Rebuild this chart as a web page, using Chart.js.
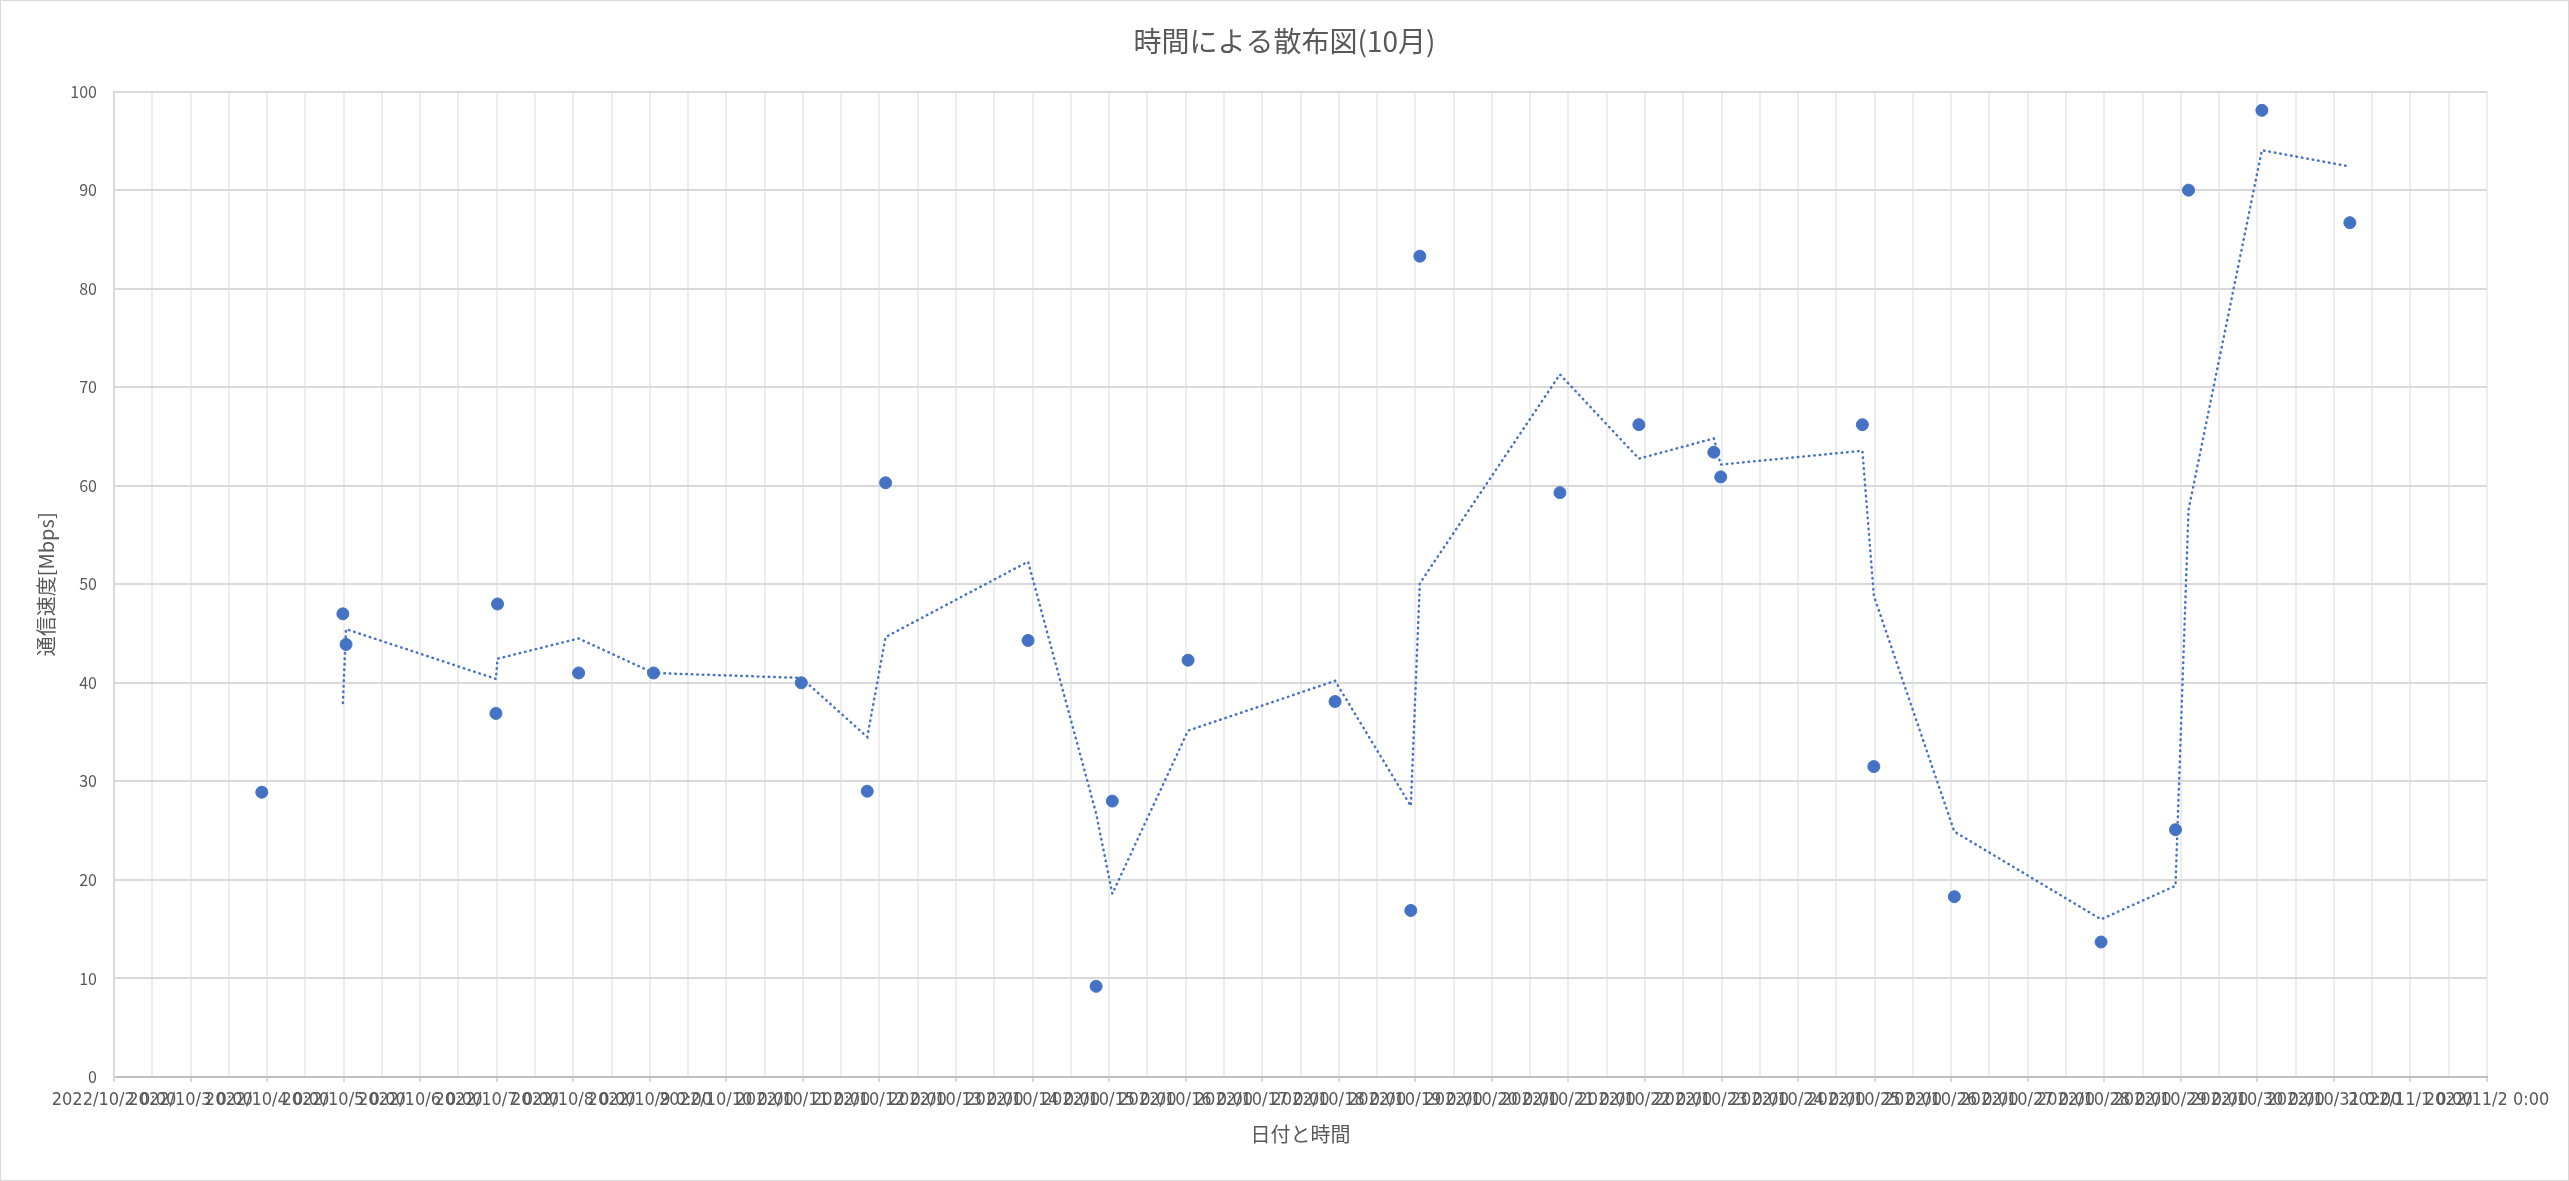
<!DOCTYPE html>
<html>
<head>
<meta charset="utf-8">
<title>時間による散布図(10月)</title>
<script src="https://cdn.jsdelivr.net/npm/chart.js@4.4.0/dist/chart.umd.min.js"></script>
<style>
  body { margin: 0; background: #fff; }
  canvas { display: block; }
</style>
</head>
<body>
<canvas id="speedChart" width="2569" height="1181"></canvas>
<script>
/************ DATA ************/
const times = [
  "2022/10/03 22:20", "2022/10/04 23:45", "2022/10/05 00:45", "2022/10/06 23:45",
  "2022/10/07 00:15", "2022/10/08 01:40", "2022/10/09 01:10", "2022/10/10 23:30",
  "2022/10/11 20:10", "2022/10/12 01:55", "2022/10/13 22:35", "2022/10/14 19:55",
  "2022/10/15 01:00", "2022/10/16 00:45", "2022/10/17 22:50", "2022/10/18 22:35",
  "2022/10/19 01:25", "2022/10/20 21:20", "2022/10/21 22:05", "2022/10/22 21:35",
  "2022/10/22 23:45", "2022/10/24 20:10", "2022/10/24 23:45", "2022/10/26 01:00",
  "2022/10/27 23:00", "2022/10/28 22:20", "2022/10/29 02:25", "2022/10/30 01:25",
  "2022/10/31 05:00",
];
const speeds = [
  28.9, 47.0, 43.9, 36.9,
  48.0, 41.0, 41.0, 40.0,
  29.0, 60.3, 44.3, 9.2,
  28.0, 42.3, 38.1, 16.9,
  83.3, 59.3, 66.2, 63.4,
  60.9, 66.2, 31.5, 18.3,
  13.7, 25.1, 90.0, 98.1,
  86.7,
];
const xRange = ["2022/10/02 00:00", "2022/11/02 00:00"];
const yTicks = [0, 10, 20, 30, 40, 50, 60, 70, 80, 90, 100];

const DAY = 86400000;
const BLUE = "#4472C4";
const FONT = "'Noto Sans CJK JP', 'Noto Sans', sans-serif";
const NARROW = "'Liberation Sans Narrow', 'DejaVu Sans Condensed', sans-serif";

function parseTime(s) {
  const [d, t] = s.split(" ");
  const [Y, M, D] = d.split("/").map(Number);
  const [h, m] = t.split(":").map(Number);
  return Date.UTC(Y, M - 1, D, h, m);
}

function formatTick(v) {
  const d = new Date(v);
  const mm = String(d.getUTCMinutes()).padStart(2, "0");
  return d.getUTCFullYear() + "/" + (d.getUTCMonth() + 1) + "/" + d.getUTCDate() + " " + d.getUTCHours() + ":" + mm;
}

const points = times.map((t, i) => ({ x: parseTime(t), y: speeds[i] }));

// 2-period moving average (Excel style trendline)
const trend = points.slice(1).map((p, i) => ({ x: p.x, y: (points[i].y + p.y) / 2 }));

const xMin = parseTime(xRange[0]);
const xMax = parseTime(xRange[1]);

/************ BORDER ************/
const chartBorder = {
  id: "chartBorder",
  afterDraw(chart) {
    const ctx = chart.ctx;
    ctx.save();
    ctx.strokeStyle = "#d9d9d9";
    ctx.lineWidth = 1;
    ctx.strokeRect(0.5, 0.5, chart.width - 1, chart.height - 1);
    ctx.restore();
  },
};

/************ CHART ************/
new Chart(document.getElementById("speedChart"), {
  type: "scatter",
  data: {
    datasets: [
      {
        label: "通信速度",
        data: points,
        backgroundColor: BLUE,
        borderColor: BLUE,
        pointRadius: 6,
        pointHoverRadius: 6,
        order: 1,
      },
      {
        label: "2 区間移動平均",
        data: trend,
        showLine: true,
        borderColor: BLUE,
        borderWidth: 2.5,
        borderDash: [0.5, 5],
        borderCapStyle: "round",
        pointRadius: 0,
        order: 0,
      },
    ],
  },
  plugins: [chartBorder],
  options: {
    responsive: false,
    animation: false,
    layout: { padding: 0 },
    plugins: {
      legend: { display: false },
      tooltip: { enabled: false },
      title: {
        display: true,
        text: "時間による散布図(10月)",
        color: "#595959",
        font: { family: FONT, size: 28, weight: "normal" },
        padding: { top: 25, bottom: 33 },
      },
    },
    scales: {
      x: {
        type: "linear",
        position: "bottom",
        min: xMin,
        max: xMax,
        afterFit: (s) => { s.height = 104; s.paddingRight = 82; },
        ticks: {
          stepSize: DAY,
          autoSkip: false,
          maxRotation: 0,
          minRotation: 0,
          padding: 8,
          color: "#595959",
          font: { family: NARROW, size: 18 },
          callback: (v) => formatTick(v),
        },
        grid: { color: "#d9d9d9", lineWidth: 2, tickLength: 5 },
        border: { color: "#bfbfbf", width: 2 },
        title: {
          display: true,
          text: "日付と時間",
          color: "#595959",
          font: { family: FONT, size: 20 },
          padding: { top: 0, bottom: 35 },
        },
      },
      xm: {
        type: "linear",
        position: "bottom",
        z: -1,
        min: xMin,
        max: xMax,
        afterFit: (s) => { s.height = 0; },
        ticks: { display: false, stepSize: DAY / 2 },
        grid: { color: "#ededed", lineWidth: 2, drawTicks: false },
        border: { display: false },
      },
      y: {
        min: 0,
        max: 100,
        afterFit: (s) => { s.width = 114; },
        afterBuildTicks: (s) => { s.ticks = yTicks.map((v) => ({ value: v })); },
        ticks: {
          padding: 17,
          color: "#595959",
          font: { family: FONT, size: 16 },
        },
        grid: { color: "#d9d9d9", lineWidth: 2, drawTicks: false },
        border: { color: "#d9d9d9", width: 2 },
        title: {
          display: true,
          text: "通信速度[Mbps]",
          color: "#595959",
          font: { family: FONT, size: 20 },
          padding: { top: 34, bottom: 0 },
        },
      },
    },
  },
});
</script>
</body>
</html>
